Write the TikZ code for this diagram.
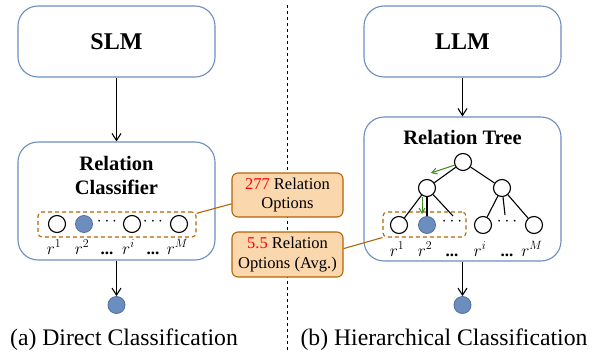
\documentclass[tikz,border=0pt]{standalone}
\usepackage[no-math]{fontspec}
\setmainfont{Liberation Serif}
\usetikzlibrary{arrows.meta,calc}
\definecolor{bluebd}{HTML}{6C8EBF}
\definecolor{bluefill}{HTML}{6C8EBF}
\definecolor{bluedk}{HTML}{4F6F9F}
\definecolor{orbd}{HTML}{B46504}
\definecolor{orfill}{HTML}{FAD7AC}
\definecolor{grn}{HTML}{3D8C1E}
\begin{document}
\begin{tikzpicture}[x=1pt,y=-1pt,
  modelbox/.style={draw=bluebd,line width=1.1pt,rounded corners=20pt,minimum width=197pt,inner sep=0pt},
  arr/.style={-{Straight Barb[length=7pt,width=9pt]},line width=1.1pt},
  garr/.style={-{Straight Barb[length=5pt,width=6pt]},line width=1pt,draw=grn},
  cnode/.style={circle,draw=black,line width=1.1pt,minimum size=17pt,inner sep=0pt,fill=white},
  fnode/.style={circle,draw=bluedk,line width=0.8pt,minimum size=17pt,inner sep=0pt,fill=bluefill},
  dbox/.style={draw=orbd,dashed,dash pattern=on 4pt off 3pt,line width=1.1pt,rounded corners=4pt,minimum height=25pt,inner sep=0pt},
  callout/.style={draw=orbd,fill=orfill,line width=1.1pt,rounded corners=6pt,minimum width=111pt,inner sep=0pt,align=center,font=\fontsize{16.5}{19.5}\selectfont},
  conn/.style={draw=orbd,line width=1.1pt},
  lbl/.style={anchor=base,inner sep=0pt,font=\fontsize{17}{20}\selectfont},
  dotnode/.style={inner sep=0pt,font=\fontsize{16}{20}\selectfont},
  treeedge/.style={line width=1.1pt},
  captext/.style={anchor=base,inner sep=0pt,font=\fontsize{23.7}{28}\selectfont}
]
\useasboundingbox (0,0) rectangle (592,351);
% divider
\draw[line width=1pt,dash pattern=on 3pt off 3pt] (287,5) -- (287,351);

% ---------- left ----------
\node[modelbox,minimum height=71pt,font=\fontsize{24}{28}\bfseries\selectfont] (slm) at (116.5,41.5) {SLM};
\node[modelbox,minimum height=118pt] (cls) at (116.5,201) {};
\node[align=center,inner sep=0pt,font=\fontsize{20.5}{24}\bfseries\selectfont] (clstitle) at (116.5,175) {Relation\\Classifier};
\draw[arr] (slm) -- (cls);
\node[dbox,minimum width=158pt] (db1) at (117,224.5) {};
\node[cnode] (a1) at (57,224) {};
\node[fnode] (a2) at (84,224) {};
\node[cnode] (a3) at (132,224) {};
\node[cnode] (a4) at (179,224) {};
\node[dotnode] (ad1) at (107,222) {$\cdots$};
\node[dotnode] (ad2) at (153,222) {$\cdots$};
\node[lbl] (la1) at (54,254) {$r^1$};
\node[lbl] (la2) at (82,254) {$r^2$};
\node[lbl] (la3) at (107,254) {\textbf{...}};
\node[lbl] (la4) at (128.5,254) {$r^i$};
\node[lbl] (la5) at (153,254) {\textbf{...}};
\node[lbl] (la6) at (177.5,254) {$r^M$};
\node[fnode] (out1) at (116.5,305) {};
\draw[arr] (cls) -- (out1);

% ---------- right ----------
\node[modelbox,minimum height=71pt,font=\fontsize{24}{28}\bfseries\selectfont] (llm) at (462.5,41.5) {LLM};
\node[modelbox,minimum height=144pt] (tree) at (462.5,189) {};
\node[inner sep=0pt,font=\fontsize{20.5}{24}\bfseries\selectfont] (treetitle) at (462.5,137) {Relation Tree};
\draw[arr] (llm) -- (tree);
\node[dbox,minimum width=83pt] (db2) at (424.5,224.5) {};
\node[cnode] (root) at (463,162) {};
\node[cnode] (n1) at (427,188) {};
\node[cnode] (n2) at (502,188) {};
\node[cnode] (l1) at (399,225) {};
\node[fnode] (l2) at (427,225) {};
\node[cnode] (l3) at (483,225) {};
\node[cnode] (l4) at (534,225) {};
\node[dotnode] (bd1) at (452,222) {$\cdots$};
\node[dotnode] (bd2) at (507,222) {$\cdots$};
\coordinate (e1) at (453,216);
\coordinate (e2) at (505,215);
\draw[treeedge] (root) -- (n1);
\draw[treeedge] (root) -- (n2);
\draw[treeedge] (n1) -- (l1);
\draw[treeedge] (n1) -- (l2);
\draw[treeedge] (n1) -- (e1);
\draw[treeedge] (n2) -- (l3);
\draw[treeedge] (n2) -- (e2);
\draw[treeedge] (n2) -- (l4);
\coordinate (g1s) at (455,165);
\coordinate (g1e) at (431,173);
\coordinate (g2s) at (422,197);
\coordinate (g2e) at (422,214);
\draw[garr] (g1s) -- (g1e);
\draw[garr] (g2s) -- (g2e);
\node[lbl] (lb1) at (397,256) {$r^1$};
\node[lbl] (lb2) at (425,256) {$r^2$};
\node[lbl] (lb3) at (452,256) {\textbf{...}};
\node[lbl] (lb4) at (480,256) {$r^i$};
\node[lbl] (lb5) at (507,256) {\textbf{...}};
\node[lbl] (lb6) at (532,256) {$r^M$};
\node[fnode] (out2) at (462.5,305) {};
\draw[arr] (tree) -- (out2);

% ---------- callouts ----------
\node[callout,minimum height=44pt] (call1) at (287.5,195) {\textcolor{red}{277} Relation\\Options};
\node[callout,minimum height=45pt] (call2) at (287.5,254.5) {\textcolor{red}{5.5} Relation\\Options (Avg.)};
\draw[conn] (db1.8) -- (call1.189);
\draw[conn] (call2.6) -- (db2.south west);

% ---------- captions ----------
\node[captext] (capa) at (124,345) {(a) Direct Classification};
\node[captext] (capb) at (444,345) {(b) Hierarchical Classification};
\end{tikzpicture}
\end{document}
